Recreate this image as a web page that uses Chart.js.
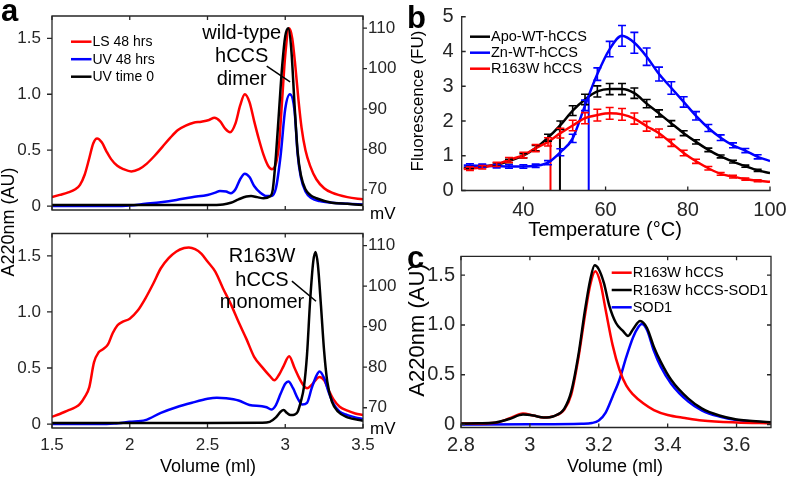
<!DOCTYPE html>
<html><head><meta charset="utf-8">
<script src="https://cdn.jsdelivr.net/npm/chart.js@4.4.1/dist/chart.umd.min.js"></script>
<style>
html,body{margin:0;padding:0;background:#fff;}
#wrap{position:relative;width:787px;height:478px;overflow:hidden;background:#fff;}
canvas{position:absolute;left:0;top:0;width:787px;height:478px;}
</style></head><body>
<div id="wrap">
<canvas id="cA1" width="787" height="478"></canvas>
<canvas id="cA2" width="787" height="478"></canvas>
<canvas id="cB" width="787" height="478"></canvas>
<canvas id="cC" width="787" height="478"></canvas>
</div>
<script>
// ================= DATA =================
// Panel a: elution volume axis and tick labels
const volTicks = [1.5, 2, 2.5, 3, 3.5];
const volTickLabels = ['1.5', '2', '2.5', '3', '3.5'];
const a220Ticks = [0, 0.5, 1, 1.5];
const a220TickLabels = ['0', '0.5', '1.0', '1.5'];
const mvTicks = [70, 80, 90, 100, 110];
const mvTickLabels = ['70', '80', '90', '100', '110'];
const seriesA = ['LS 48 hrs', 'UV 48 hrs', 'UV time 0'];

// Panel a, top (wild-type hCCS dimer)
const lsTopVol = [1.50,1.55,1.60,1.65,1.68,1.71,1.74,1.765,1.79,1.82,1.85,1.88,1.92,1.96,2.01,2.06,2.11,2.16,2.21,2.26,2.31,2.36,2.41,2.46,2.51,2.545,2.58,2.615,2.645,2.68,2.71,2.74,2.77,2.80,2.83,2.86,2.89,2.915,2.94,2.96,2.98,3.00,3.025,3.045,3.065,3.085,3.105,3.13,3.16,3.2,3.25,3.3,3.4,3.5];
const lsTopA   = [0.08,0.10,0.12,0.15,0.19,0.28,0.43,0.56,0.605,0.57,0.49,0.42,0.36,0.33,0.31,0.33,0.38,0.45,0.53,0.61,0.68,0.72,0.745,0.755,0.77,0.79,0.76,0.69,0.66,0.74,0.90,1.0,0.93,0.76,0.60,0.46,0.36,0.33,0.38,0.55,0.95,1.35,1.59,1.50,1.25,0.95,0.70,0.50,0.36,0.24,0.16,0.12,0.08,0.06];
const uv48TopVol = [1.5,1.9,2.0,2.1,2.2,2.3,2.4,2.5,2.55,2.58,2.62,2.65,2.68,2.71,2.74,2.77,2.8,2.84,2.88,2.91,2.94,2.97,3.0,3.03,3.06,3.08,3.1,3.13,3.17,3.22,3.3,3.4,3.5];
const uv48TopA   = [0.0,0.0,0.005,0.02,0.035,0.055,0.08,0.1,0.12,0.135,0.13,0.115,0.15,0.24,0.29,0.26,0.18,0.12,0.09,0.09,0.16,0.45,0.87,1.0,0.85,0.46,0.26,0.13,0.07,0.045,0.03,0.02,0.015];
const uv0TopVol = [1.5,2.0,2.5,2.6,2.65,2.7,2.75,2.78,2.82,2.86,2.9,2.92,2.94,2.96,2.98,3.0,3.02,3.04,3.06,3.08,3.1,3.13,3.16,3.2,3.3,3.4,3.5];
const uv0TopA   = [0.01,0.01,0.01,0.015,0.03,0.06,0.085,0.09,0.08,0.07,0.085,0.15,0.45,0.85,1.25,1.52,1.59,1.38,0.90,0.48,0.28,0.15,0.10,0.07,0.03,0.02,0.01];

// Panel a, bottom (R163W hCCS monomer)
const lsBotVol = [1.5,1.55,1.6,1.65,1.68,1.71,1.74,1.77,1.8,1.83,1.86,1.89,1.92,1.95,2.0,2.05,2.1,2.15,2.2,2.25,2.3,2.35,2.38,2.42,2.46,2.5,2.55,2.6,2.65,2.7,2.75,2.8,2.85,2.9,2.93,2.96,2.99,3.025,3.06,3.09,3.12,3.14,3.17,3.2,3.22,3.25,3.28,3.31,3.35,3.4,3.45,3.5];
const lsBotA   = [0.065,0.09,0.12,0.15,0.18,0.24,0.33,0.55,0.64,0.67,0.71,0.81,0.88,0.91,0.94,1.01,1.12,1.25,1.39,1.48,1.54,1.57,1.575,1.56,1.52,1.45,1.36,1.21,1.07,0.91,0.76,0.6,0.51,0.43,0.39,0.44,0.52,0.605,0.5,0.41,0.34,0.32,0.35,0.40,0.42,0.39,0.30,0.22,0.155,0.12,0.095,0.08];
const uv48BotVol = [1.5,1.8,1.9,2.0,2.1,2.2,2.3,2.4,2.5,2.56,2.62,2.7,2.77,2.85,2.88,2.91,2.94,2.97,3.0,3.02,3.05,3.08,3.11,3.14,3.17,3.2,3.22,3.25,3.28,3.31,3.35,3.4,3.45,3.5];
const uv48BotA   = [0.0,0.0,0.005,0.02,0.035,0.1,0.15,0.19,0.225,0.235,0.23,0.21,0.17,0.16,0.15,0.13,0.17,0.27,0.36,0.38,0.32,0.23,0.175,0.19,0.32,0.43,0.47,0.41,0.28,0.18,0.11,0.08,0.06,0.045];
const uv0BotVol = [1.5,2.5,2.85,2.9,2.94,2.97,2.99,3.01,3.035,3.06,3.08,3.1,3.12,3.14,3.16,3.18,3.195,3.21,3.23,3.25,3.27,3.3,3.34,3.4,3.5];
const uv0BotA   = [0.01,0.01,0.012,0.02,0.06,0.11,0.125,0.1,0.08,0.085,0.11,0.2,0.33,0.62,1.1,1.45,1.535,1.42,1.05,0.65,0.38,0.2,0.11,0.06,0.03];

// Panel b: thermal unfolding
const tempTicks = [40, 60, 80, 100];
const tempTickLabels = ['40', '60', '80', '100'];
const fluorTicks = [0, 1, 2, 3, 4, 5];
const fluorTickLabels = ['0', '1', '2', '3', '4', '5'];
const seriesB = ['Apo-WT-hCCS', 'Zn-WT-hCCS', 'R163W hCCS'];
const temps = [27,30,33.5,36.5,40,43,46,49,52,55,58,61,64,67,70,73,76,79,82,85,88,91,94,97];
const apoMean = [0.66,0.69,0.75,0.85,1.0,1.22,1.52,1.88,2.3,2.62,2.85,2.92,2.92,2.8,2.5,2.22,1.93,1.65,1.40,1.17,0.98,0.83,0.70,0.58];
const apoErr  = [0.03,0.03,0.04,0.05,0.06,0.08,0.1,0.12,0.14,0.15,0.16,0.16,0.16,0.15,0.12,0.1,0.08,0.07,0.06,0.05,0.04,0.04,0.03,0.03];
const znMean  = [0.72,0.71,0.70,0.69,0.69,0.71,0.80,1.1,1.5,2.45,3.35,4.07,4.45,4.25,3.85,3.35,2.95,2.55,2.15,1.8,1.52,1.3,1.15,0.97];
const znErr   = [0.05,0.05,0.05,0.05,0.05,0.05,0.06,0.1,0.12,0.15,0.18,0.22,0.3,0.3,0.25,0.2,0.18,0.15,0.12,0.1,0.08,0.07,0.06,0.06];
const rwMean  = [0.63,0.67,0.75,0.88,1.02,1.22,1.40,1.65,1.87,2.08,2.17,2.22,2.19,2.07,1.85,1.65,1.37,1.08,0.84,0.64,0.48,0.40,0.33,0.28];
const rwErr   = [0.05,0.05,0.06,0.07,0.08,0.1,0.12,0.14,0.15,0.16,0.17,0.17,0.17,0.16,0.14,0.12,0.1,0.08,0.06,0.05,0.04,0.04,0.03,0.03];
const fitEndsT = [25.5, 100];
const apoEnds = [0.65, 0.50];
const znEnds  = [0.72, 0.85];
const rwEnds  = [0.62, 0.25];
const tmT   = [48.9, 55.9, 46.6];   // Apo, Zn, R163W melting temperatures
const tmTop = [1.9, 2.68, 1.43];

// Panel c: R163W hCCS / SOD1 complex
const cVolTicks = [2.8, 3, 3.2, 3.4, 3.6];
const cVolTickLabels = ['2.8', '3', '3.2', '3.4', '3.6'];
const seriesC = ['R163W hCCS', 'R163W hCCS-SOD1', 'SOD1'];
const rwcVol = [2.8,2.85,2.9,2.94,2.98,3.01,3.04,3.07,3.1,3.12,3.14,3.16,3.175,3.19,3.205,3.22,3.24,3.26,3.28,3.3,3.33,3.36,3.4,3.45,3.5,3.6,3.7];
const rwcA   = [0.01,0.01,0.018,0.06,0.11,0.09,0.07,0.085,0.15,0.3,0.65,1.1,1.4,1.54,1.42,1.15,0.8,0.55,0.39,0.3,0.21,0.145,0.095,0.065,0.04,0.02,0.012];
const cplxVol = [2.8,2.85,2.9,2.94,2.98,3.01,3.04,3.07,3.1,3.12,3.14,3.16,3.175,3.188,3.2,3.215,3.23,3.25,3.27,3.285,3.3,3.32,3.34,3.36,3.38,3.41,3.46,3.5,3.55,3.6,3.7];
const cplxA   = [0.01,0.012,0.02,0.055,0.10,0.09,0.07,0.085,0.16,0.33,0.68,1.15,1.45,1.6,1.56,1.42,1.2,1.02,0.94,0.89,0.96,1.04,0.97,0.78,0.63,0.45,0.26,0.16,0.09,0.05,0.022];
const sodVol = [2.8,3.0,3.15,3.18,3.2,3.22,3.24,3.26,3.28,3.3,3.315,3.325,3.34,3.36,3.38,3.41,3.46,3.5,3.55,3.6,3.7];
const sodA   = [0.0,0.002,0.008,0.015,0.04,0.12,0.28,0.45,0.68,0.88,0.98,1.01,0.95,0.74,0.58,0.41,0.23,0.14,0.08,0.045,0.018];

// ================= DRAWING =================
const AX = '#262626';
const FONT = "'Liberation Sans', Arial, Helvetica, sans-serif";
const RED = '#ff0000', BLUE = '#0000ff', BLACK = '#000000';
Chart.defaults.font.family = FONT;
Chart.defaults.color = AX;

const pts = (xs, ys) => xs.map((x, i) => ({x, y: ys[i]}));

function lineDS(label, data, color, order, width) {
  return {label, data, borderColor: color, backgroundColor: color, borderWidth: width || 2.5,
    pointRadius: 0, cubicInterpolationMode: 'monotone', fill: false, order};
}

function scale(axis, position, min, max, tv, tl, size, opt) {
  opt = opt || {};
  return {
    type: 'linear', axis, position, min, max,
    grid: {display: false, drawTicks: false}, border: {display: false},
    afterBuildTicks: s => { s.ticks = tv.map(v => ({value: v})); },
    afterFit: s => {
      if (axis === 'x') s.height = size; else s.width = size;
      s.paddingLeft = s.paddingRight = s.paddingTop = s.paddingBottom = 0;
    },
    ticks: {display: opt.show !== false, padding: opt.pad == null ? 6 : opt.pad, autoSkip: false,
      maxRotation: 0, minRotation: 0, font: {size: opt.fs || 17, lineHeight: 1}, color: AX,
      callback: (v, i) => tl[i]}
  };
}

const decor = {
  id: 'decor',
  afterDatasetsDraw(chart, args, o) {
    const ctx = chart.ctx;
    (o.errors || []).forEach(e => {
      const meta = chart.getDatasetMeta(e.ds);
      const ds = chart.data.datasets[e.ds];
      const xs = chart.scales[meta.xAxisID], ys = chart.scales[meta.yAxisID];
      ctx.save();
      ctx.strokeStyle = ds.borderColor; ctx.lineWidth = e.width || 1.6;
      e.x.forEach((xv, i) => {
        const px = xs.getPixelForValue(xv);
        const y1 = ys.getPixelForValue(e.y[i] - e.err[i]);
        const y2 = ys.getPixelForValue(e.y[i] + e.err[i]);
        ctx.beginPath();
        ctx.moveTo(px, y1); ctx.lineTo(px, y2);
        ctx.moveTo(px - e.cap, y1); ctx.lineTo(px + e.cap, y1);
        ctx.moveTo(px - e.cap, y2); ctx.lineTo(px + e.cap, y2);
        ctx.stroke();
      });
      ctx.restore();
    });
  },
  afterDraw(chart, args, o) {
    const ctx = chart.ctx, a = chart.chartArea;
    ctx.save();
    ctx.strokeStyle = AX; ctx.lineWidth = o.axisWidth || 1.3; ctx.lineCap = 'square';
    const b = o.box || {};
    ctx.beginPath();
    if (b.left)   { ctx.moveTo(a.left, a.top);  ctx.lineTo(a.left, a.bottom); }
    if (b.right)  { ctx.moveTo(a.right, a.top); ctx.lineTo(a.right, a.bottom); }
    if (b.top)    { ctx.moveTo(a.left, a.top);  ctx.lineTo(a.right, a.top); }
    if (b.bottom) { ctx.moveTo(a.left, a.bottom); ctx.lineTo(a.right, a.bottom); }
    ctx.stroke();
    ctx.lineCap = 'butt';
    ctx.beginPath();
    (o.tickMarks || []).forEach(t => {
      const s = chart.scales[t.scale];
      const sgn = ({left: 1, right: -1, top: 1, bottom: -1})[t.side] * (t.out ? -1 : 1);
      s.ticks.forEach(tk => {
        const p = s.getPixelForValue(tk.value);
        if (t.side === 'left' || t.side === 'right') {
          const x0 = t.side === 'left' ? a.left : a.right;
          ctx.moveTo(x0, p); ctx.lineTo(x0 + sgn * t.len, p);
        } else {
          const y0 = t.side === 'top' ? a.top : a.bottom;
          ctx.moveTo(p, y0); ctx.lineTo(p, y0 + sgn * t.len);
        }
      });
    });
    ctx.stroke();
    // leader lines (data coordinates)
    (o.leaders || []).forEach(l => {
      const xs = chart.scales.x, ys = chart.scales.y;
      ctx.strokeStyle = BLACK; ctx.lineWidth = 1.5;
      ctx.beginPath();
      ctx.moveTo(xs.getPixelForValue(l.x1), ys.getPixelForValue(l.y1));
      ctx.lineTo(xs.getPixelForValue(l.x2), ys.getPixelForValue(l.y2));
      ctx.stroke();
    });
    // legend
    if (o.legend) {
      const L = o.legend;
      ctx.font = (L.fs || 14) + 'px ' + FONT;
      ctx.textBaseline = 'middle'; ctx.textAlign = 'left';
      L.items.forEach((di, k) => {
        const ds = chart.data.datasets[di];
        const y = L.y + k * L.dy;
        ctx.strokeStyle = ds.borderColor; ctx.lineWidth = 2.5;
        ctx.beginPath(); ctx.moveTo(L.x, y); ctx.lineTo(L.x + L.len, y); ctx.stroke();
        ctx.fillStyle = '#000';
        ctx.fillText(ds.label, L.x + L.len + (L.gap || 1), y + 0.5);
      });
    }
    // texts
    (o.texts || []).forEach(t => {
      ctx.save();
      ctx.font = (t.w || '') + ' ' + t.fs + 'px ' + FONT;
      ctx.fillStyle = t.color || '#000';
      ctx.textAlign = t.align || 'center';
      ctx.textBaseline = t.base || 'middle';
      ctx.translate(t.x, t.y);
      if (t.rot) ctx.rotate(-Math.PI / 2);
      ctx.fillText(t.t, 0, 0);
      ctx.restore();
    });
    ctx.restore();
  }
};
Chart.register(decor);

const common = {responsive: false, animation: false, devicePixelRatio: 1, events: []};

// ---------- panel a, top ----------
new Chart(document.getElementById('cA1'), {
  type: 'line',
  data: {datasets: [
    lineDS(seriesA[0], pts(lsTopVol, lsTopA), RED, 3),
    lineDS(seriesA[1], pts(uv48TopVol, uv48TopA), BLUE, 2),
    lineDS(seriesA[2], pts(uv0TopVol, uv0TopA), BLACK, 1)
  ]},
  options: Object.assign({}, common, {
    layout: {autoPadding: false, padding: {left: 7, top: 16, right: 384, bottom: 0}},
    scales: {
      x: scale('x', 'bottom', 1.5, 3.5, volTicks, volTickLabels, 268, {show: false}),
      y: scale('y', 'left', -0.035, 1.70, a220Ticks, a220TickLabels, 45, {pad: 11}),
      y2: scale('y', 'right', 65, 113, mvTicks, mvTickLabels, 40, {pad: 5})
    },
    plugins: {legend: {display: false}, tooltip: {enabled: false},
      decor: {
        box: {left: true, right: true, top: true, bottom: true},
        tickMarks: [{scale: 'y', side: 'left', out: true, len: 5}, {scale: 'y2', side: 'right', out: true, len: 4},
                    {scale: 'x', side: 'top', len: 4}, {scale: 'x', side: 'bottom', len: 4}],
        legend: {x: 71, y: 41.7, dy: 17.5, len: 20.5, items: [0, 1, 2]},
        leaders: [{x1: 2.881, y1: 1.251, x2: 3.031, y2: 1.111}],
        texts: [
          {t: 'a', x: 1, y: 21, fs: 31, w: 'bold', align: 'left', base: 'alphabetic'},
          {t: 'A220nm (AU)', x: 9, y: 222, fs: 18, rot: true},
          {t: 'wild-type', x: 241.7, y: 33, fs: 20},
          {t: 'hCCS', x: 241.7, y: 56.5, fs: 20},
          {t: 'dimer', x: 241.7, y: 79, fs: 20},
          {t: 'mV', x: 370, y: 214, fs: 17, align: 'left'}
        ]
      }}
  })
});

// ---------- panel a, bottom ----------
new Chart(document.getElementById('cA2'), {
  type: 'line',
  data: {datasets: [
    lineDS(seriesA[0], pts(lsBotVol, lsBotA), RED, 3),
    lineDS(seriesA[1], pts(uv48BotVol, uv48BotA), BLUE, 2),
    lineDS(seriesA[2], pts(uv0BotVol, uv0BotA), BLACK, 1)
  ]},
  options: Object.assign({}, common, {
    layout: {autoPadding: false, padding: {left: 7, top: 233.5, right: 384, bottom: 0}},
    scales: {
      x: scale('x', 'bottom', 1.5, 3.5, volTicks, volTickLabels, 50, {pad: 8.5}),
      y: scale('y', 'left', -0.035, 1.70, a220Ticks, a220TickLabels, 45, {pad: 11}),
      y2: scale('y', 'right', 65, 113, mvTicks, mvTickLabels, 40, {pad: 5})
    },
    plugins: {legend: {display: false}, tooltip: {enabled: false},
      decor: {
        box: {left: true, right: true, top: true, bottom: true},
        tickMarks: [{scale: 'y', side: 'left', out: true, len: 5}, {scale: 'y2', side: 'right', out: true, len: 4},
                    {scale: 'x', side: 'top', len: 4}, {scale: 'x', side: 'bottom', len: 4}],
        leaders: [{x1: 3.043, y1: 1.275, x2: 3.198, y2: 1.096}],
        texts: [
          {t: 'R163W', x: 262, y: 256.5, fs: 20},
          {t: 'hCCS', x: 262, y: 280, fs: 20},
          {t: 'monomer', x: 262, y: 302, fs: 20},
          {t: 'mV', x: 370, y: 429, fs: 17, align: 'left'},
          {t: 'Volume (ml)', x: 208, y: 467, fs: 18}
        ]
      }}
  })
});

// ---------- panel b ----------
const curve = (ends, mean) => [{x: fitEndsT[0], y: ends[0]}].concat(pts(temps, mean), [{x: fitEndsT[1], y: ends[1]}]);
const tmLine = (i, color, order) => ({label: 'Tm', data: [{x: tmT[i], y: 0}, {x: tmT[i], y: tmTop[i]}],
  borderColor: color, borderWidth: 2, pointRadius: 0, tension: 0, order});
new Chart(document.getElementById('cB'), {
  type: 'line',
  data: {datasets: [
    lineDS(seriesB[0], curve(apoEnds, apoMean), BLACK, 3),
    lineDS(seriesB[1], curve(znEnds, znMean), BLUE, 2),
    lineDS(seriesB[2], curve(rwEnds, rwMean), RED, 1),
    tmLine(0, BLACK, 4), tmLine(1, BLUE, 4), tmLine(2, RED, 4)
  ]},
  options: Object.assign({}, common, {
    layout: {autoPadding: false, padding: {left: 416.7, top: 16.75, right: 17, bottom: 0}},
    scales: {
      x: scale('x', 'bottom', 25, 100, tempTicks, tempTickLabels, 287.5, {pad: 10, fs: 20}),
      y: scale('y', 'left', 0, 5, fluorTicks, fluorTickLabels, 45, {pad: 8, fs: 20})
    },
    plugins: {legend: {display: false}, tooltip: {enabled: false},
      decor: {
        box: {left: true, bottom: true},
        tickMarks: [{scale: 'y', side: 'left', len: 4}, {scale: 'x', side: 'bottom', len: 4}],
        errors: [
          {ds: 0, x: temps, y: apoMean, err: apoErr, cap: 4},
          {ds: 1, x: temps, y: znMean, err: znErr, cap: 4},
          {ds: 2, x: temps, y: rwMean, err: rwErr, cap: 4}
        ],
        legend: {x: 470, y: 36.7, dy: 16, len: 20, items: [0, 1, 2], fs: 14.5},
        texts: [
          {t: 'b', x: 407, y: 28, fs: 31, w: 'bold', align: 'left', base: 'alphabetic'},
          {t: 'Fluorescence (FU)', x: 418, y: 101, fs: 17, rot: true},
          {t: 'Temperature (°C)', x: 605, y: 230, fs: 20}
        ]
      }}
  })
});

// ---------- panel c ----------
new Chart(document.getElementById('cC'), {
  type: 'line',
  data: {datasets: [
    lineDS(seriesC[0], pts(rwcVol, rwcA), RED, 2),
    lineDS(seriesC[1], pts(cplxVol, cplxA), BLACK, 1),
    lineDS(seriesC[2], pts(sodVol, sodA), BLUE, 3)
  ]},
  options: Object.assign({}, common, {
    layout: {autoPadding: false, padding: {left: 416, top: 256.3, right: 16, bottom: 0}},
    scales: {
      x: scale('x', 'bottom', 2.8, 3.7, cVolTicks, cVolTickLabels, 50.5, {pad: 7.5, fs: 20}),
      y: scale('y', 'left', -0.03, 1.69, a220Ticks, a220TickLabels, 45, {pad: 6, fs: 20})
    },
    plugins: {legend: {display: false}, tooltip: {enabled: false},
      decor: {
        box: {left: true, right: true, top: true, bottom: true},
        tickMarks: [{scale: 'y', side: 'left', len: 4}, {scale: 'y', side: 'right', len: 4},
                    {scale: 'x', side: 'bottom', len: 4}, {scale: 'x', side: 'top', len: 4}],
        legend: {x: 611.7, y: 272.7, dy: 17.3, len: 20, items: [0, 1, 2], fs: 14.5},
        texts: [
          {t: 'c', x: 407, y: 268, fs: 31, w: 'bold', align: 'left', base: 'alphabetic'},
          {t: 'A220nm (AU)', x: 417.5, y: 330, fs: 22, rot: true},
          {t: 'Volume (ml)', x: 615, y: 467, fs: 18}
        ]
      }}
  })
});
</script>
</body></html>
